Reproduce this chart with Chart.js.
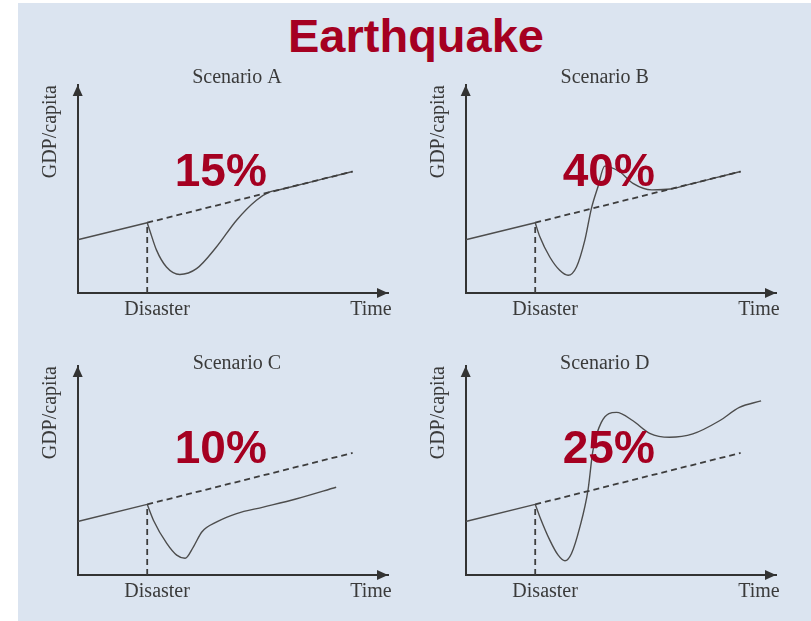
<!DOCTYPE html>
<html>
<head>
<meta charset="utf-8">
<script src="https://cdn.jsdelivr.net/npm/chart.js@4/dist/chart.umd.min.js"></script>
<style>
  body { margin: 0; width: 811px; height: 621px; background: #ffffff; position: relative; overflow: hidden; }
  #panel { position: absolute; left: 18px; top: 3px; right: 0; bottom: 0; background: #dbe4f0; }
  #heading { position: absolute; left: 0; width: 832px; top: 8px; line-height: 47px; text-align: center;
             font: bold 47px "Liberation Sans", Arial, sans-serif; color: #a50021; }
  canvas { position: absolute; }
</style>
</head>
<body>
<div id="panel"></div>
<div id="heading">Earthquake</div>
<canvas id="chartA" width="370" height="266" style="left:30px;top:63px"></canvas>
<canvas id="chartB" width="370" height="266" style="left:418px;top:63px"></canvas>
<canvas id="chartC" width="370" height="267" style="left:30px;top:344px"></canvas>
<canvas id="chartD" width="370" height="267" style="left:418px;top:344px"></canvas>
<script>
// Shared pre-disaster trend and its dashed continuation
const trendTime = [0, 22.4, 88.6];
const trendGdp = [25.6, 33.8, 58.4];
const disasterTime = 22.4;
const xTickValues = [25.6, 94.5];
const xTickLabels = ['Disaster', 'Time'];
const scenarioTitles = ['Scenario A', 'Scenario B', 'Scenario C', 'Scenario D'];
const recoveryShares = ['15%', '40%', '10%', '25%'];

// Actual GDP path after the disaster, per scenario
const timeA = [22.4, 23.2, 25.4, 28.6, 32.9, 38.3, 44.7, 51.2, 57.6, 61.9, 66.0, 72.0, 80.0, 88.6];
const gdpA  = [33.8, 30.2, 20.6, 12.5, 8.9, 11.7, 22.1, 35.0, 44.6, 48.6, 50.0, 52.2, 55.2, 58.4];

const timeB = [22.4, 23.9, 27.1, 30.3, 33.0, 35.7, 38.4, 40.5, 42.6, 44.8, 49.6, 53.9, 60.0, 66.0, 72.0, 80.0, 88.6];
const gdpB  = [33.8, 27.0, 17.3, 10.9, 8.5, 12.5, 25.4, 40.6, 51.0, 61.0, 58.3, 52.7, 49.6, 50.0, 52.2, 55.2, 58.4];

const timeC = [22.4, 24.4, 28.7, 31.9, 34.6, 37.3, 40.0, 44.8, 51.2, 59.8, 70.6, 83.3];
const gdpC  = [33.8, 26.2, 15.1, 9.5, 8.0, 13.5, 20.6, 25.4, 29.4, 32.5, 36.5, 42.0];

const timeD = [22.4, 23.9, 27.1, 29.8, 32.0, 34.1, 36.8, 39.4, 41.0, 43.7, 48.6, 53.9, 59.3, 65.7, 73.2, 81.8, 88.2, 95.2];
const gdpD  = [33.8, 27.8, 16.7, 9.5, 6.8, 10.3, 23.0, 40.5, 59.5, 73.0, 77.8, 73.8, 67.8, 65.9, 67.5, 73.8, 80.2, 83.3];

const serif = '"Liberation Serif", "DejaVu Serif", serif';
const axisColor = '#333333';
const lineColor = '#4d4d4d';
const dashColor = '#3d3d3d';

function points(xs, ys) {
    return xs.map((x, i) => ({ x: x, y: ys[i] }));
}

// arrow heads at the ends of both axes
const arrowPlugin = {
    id: 'arrows',
    afterDraw(chart) {
        const { ctx, chartArea } = chart;
        ctx.save();
        ctx.fillStyle = axisColor;
        ctx.beginPath();
        ctx.moveTo(chartArea.left, chartArea.top);
        ctx.lineTo(chartArea.left - 5, chartArea.top + 11);
        ctx.lineTo(chartArea.left + 5, chartArea.top + 11);
        ctx.closePath();
        ctx.fill();
        ctx.beginPath();
        ctx.moveTo(chartArea.right, chartArea.bottom);
        ctx.lineTo(chartArea.right - 11, chartArea.bottom - 5);
        ctx.lineTo(chartArea.right - 11, chartArea.bottom + 5);
        ctx.closePath();
        ctx.fill();
        ctx.restore();
    }
};

// big percentage label, placed in data coordinates
const shareLabelPlugin = {
    id: 'shareLabel',
    afterDatasetsDraw(chart, args, opts) {
        const { ctx, scales } = chart;
        ctx.save();
        ctx.font = 'bold 46px "Liberation Sans", Arial, sans-serif';
        ctx.fillStyle = '#a50021';
        ctx.textAlign = 'center';
        ctx.textBaseline = 'middle';
        ctx.fillText(opts.text, scales.x.getPixelForValue(opts.x), scales.y.getPixelForValue(opts.y) + 2);
        ctx.restore();
    }
};

function makePanel(id, idx, curveTime, curveGdp, topRow, leftCol) {
    const titleAt = leftCol ? 51.3 : 44.8;
    new Chart(document.getElementById(id), {
        type: 'scatter',
        data: {
            datasets: [
                { data: points(trendTime.slice(0, 2), trendGdp.slice(0, 2)), borderColor: lineColor, borderWidth: 1.4 },
                { data: points(trendTime.slice(1), trendGdp.slice(1)), borderColor: dashColor, borderWidth: 1.8, borderDash: [6, 4] },
                { data: points([disasterTime, disasterTime], [0, trendGdp[1]]), borderColor: dashColor, borderWidth: 1.8, borderDash: [6, 4] },
                { data: points(curveTime, curveGdp), borderColor: lineColor, borderWidth: 1.4, cubicInterpolationMode: 'monotone' }
            ]
        },
        options: {
            responsive: false,
            animation: false,
            showLine: true,
            elements: { point: { radius: 0 } },
            layout: { padding: { right: 12 } },
            scales: {
                x: {
                    type: 'linear', min: 0, max: 100,
                    grid: { display: false, drawTicks: false },
                    border: { display: true, color: axisColor, width: 2 },
                    afterBuildTicks: (scale) => { scale.ticks = xTickValues.map(v => ({ value: v })); },
                    afterFit: (scale) => { scale.height = 36; },
                    ticks: {
                        autoSkip: false, maxRotation: 0, padding: 5, color: '#3a3a3a',
                        font: { family: serif, size: 20 },
                        callback: (value, index) => xTickLabels[index]
                    }
                },
                // top axis only carries the scenario name (mirrored so it is not clipped)
                xTop: {
                    type: 'linear', position: 'top', min: 0, max: 100,
                    grid: { display: false, drawTicks: false },
                    border: { display: false },
                    afterBuildTicks: (scale) => { scale.ticks = [{ value: titleAt }]; },
                    afterFit: (scale) => { scale.height = 22; },
                    ticks: {
                        autoSkip: false, maxRotation: 0, mirror: true, padding: topRow ? -17 : -12, color: '#3a3a3a',
                        font: { family: serif, size: 20, lineHeight: 1 },
                        callback: () => scenarioTitles[idx]
                    }
                },
                y: {
                    min: 0, max: 100,
                    grid: { display: false, drawTicks: false },
                    border: { display: true, color: axisColor, width: 2 },
                    ticks: { display: false },
                    afterFit: (scale) => { scale.width = 47.7; },
                    title: {
                        display: true, text: 'GDP/capita', align: 'end', color: '#3a3a3a',
                        font: { family: serif, size: 20 }, padding: { top: 8.7, bottom: 0 }
                    }
                }
            },
            plugins: {
                legend: { display: false },
                tooltip: { enabled: false },
                title: { display: false },
                shareLabel: { text: recoveryShares[idx], x: 46.1, y: topRow ? 58.6 : 60.8 }
            }
        },
        plugins: [arrowPlugin, shareLabelPlugin]
    });
}

makePanel('chartA', 0, timeA, gdpA, true, true);
makePanel('chartB', 1, timeB, gdpB, true, false);
makePanel('chartC', 2, timeC, gdpC, false, true);
makePanel('chartD', 3, timeD, gdpD, false, false);
</script>
</body>
</html>
